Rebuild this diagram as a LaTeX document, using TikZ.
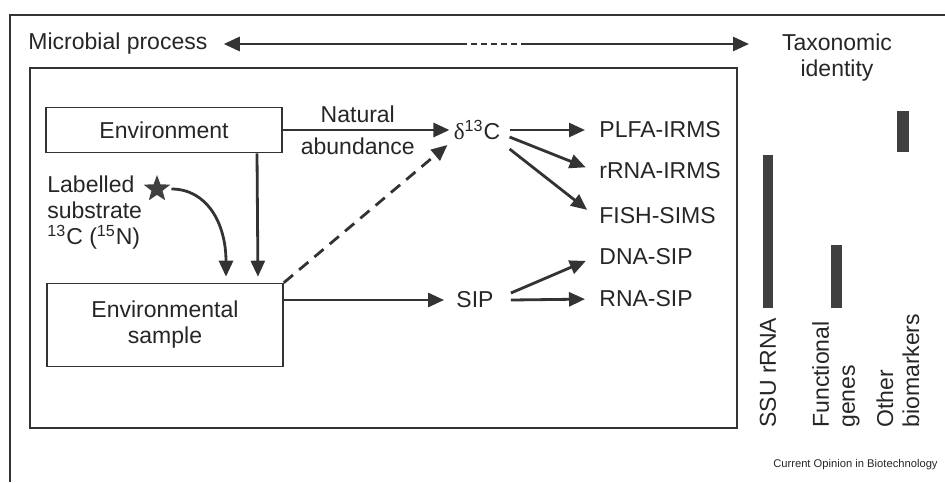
\documentclass[tikz,border=0pt]{standalone}
\usepackage{fontspec}
\setmainfont{Liberation Sans}
\newfontfamily\deltafont{Liberation Serif}
\usepackage{tikz}
\usetikzlibrary{arrows.meta,shapes.geometric}

\tikzset{
  lbl/.style={font=\fontsize{11.5}{13}\selectfont, text=black!85, inner sep=2pt, align=center},
  boxed/.style={lbl, draw=black!80, line width=0.8pt, minimum width=118pt},
  arr/.style={-{Triangle[length=8pt,width=7pt]}, line width=1.4pt, draw=black!80},
  bar/.style={fill=black!75},
  rot/.style={lbl, rotate=90, anchor=west, align=left},
}

\begin{document}
\begin{tikzpicture}[x=0.5pt,y=-0.5pt]
\useasboundingbox (0,0) rectangle (945,482);
% frames
\draw[line width=1pt, black!80] (10,482) -- (10,15) -- (945,15);
\draw[line width=1pt, black!80] (30,68) rectangle (737,428);

% top scale
\node[lbl, anchor=west] (proc) at (24,44) {Microbial process};
\node[lbl] (taxo) at (837,58) {Taxonomic\\identity};
\coordinate (tx) at (749,44);
\draw[arr, {Triangle[length=8pt,width=7pt]}-] ([xshift=6pt]proc.east) -- ++(237,0) coordinate (d1);
\draw[line width=1.4pt, black!80, dash pattern=on 3pt off 2pt] (d1) -- ++(60,0) coordinate (d2);
\draw[arr] (d2) -- (tx);

% boxes and labels
\node[boxed, minimum height=22.5pt] (env) at (164,130) {Environment};
\node[boxed, minimum height=41.5pt] (sample) at (165,325) {Environmental\\sample};
\node[star, star points=5, star point ratio=2.4, fill=black!75, minimum size=14pt, inner sep=0pt] (star) at (157,189) {};
\node[lbl, anchor=west, align=left] (lab) at (43,213) {Labelled\\substrate\\\textsuperscript{13}C (\textsuperscript{15}N)};

\node[lbl] (dC) at (477,130) {{\deltafont δ}\textsuperscript{13}C};
\node[lbl] (sip) at (475,300) {SIP};
\node[lbl, anchor=west] (plfa) at (595,130) {PLFA-IRMS};
\node[lbl, anchor=west] (rrna) at (595,171) {rRNA-IRMS};
\node[lbl, anchor=west] (fish) at (595,216) {FISH-SIMS};
\node[lbl, anchor=west] (dna) at (595,257) {DNA-SIP};
\node[lbl, anchor=west] (rna) at (595,299) {RNA-SIP};

% connectors
\draw[arr] (env) -- node[lbl, pos=0.45, above=1pt] {Natural} node[lbl, pos=0.45, below=1pt] {abundance} (dC);
\draw[arr, shorten >=3pt] ([xshift=46.5pt]env.south) -- ([xshift=46.5pt]sample.north);
\draw[arr, shorten >=3pt] ([xshift=3pt]star.east) .. controls +(35,0) and +(0,-60) .. ([xshift=30.5pt]sample.north);
\draw[arr, dash pattern=on 6pt off 4pt] (sample.north east) -- ([shift={(-1pt,-7.5pt)}]dC.west);
\draw[arr, shorten >=4pt] (sample.east |- sip) -- (sip);
\draw[arr, shorten >=5pt] ([xshift=2.5pt]dC.east) -- (plfa.west);
\draw[arr, shorten >=5pt] ([shift={(2.5pt,-3.5pt)}]dC.east) -- (rrna.west);
\draw[arr, shorten >=5pt] ([shift={(2.5pt,-9.5pt)}]dC.east) -- (fish.west);
\draw[arr, shorten >=5pt] ([shift={(6.5pt,3.5pt)}]sip.east) -- (dna.west);
\draw[arr, shorten >=5pt] ([xshift=6.5pt]sip.east) -- (rna.west);

% taxonomic bars
\fill[bar] (763,155) rectangle (773,308);
\fill[bar] (831,245) rectangle (842,308);
\fill[bar] (897,111) rectangle (909,152);
\node[rot] (ssu) at (768,432) {SSU rRNA};
\node[rot] (func) at (836,432) {Functional\\genes};
\node[rot] (other) at (898,432) {Other\\biomarkers};

\node[font=\fontsize{5.6}{7}\selectfont, text=black!85, anchor=east, inner sep=0pt] (credit) at (938,465) {Current Opinion in Biotechnology};
\end{tikzpicture}
\end{document}
